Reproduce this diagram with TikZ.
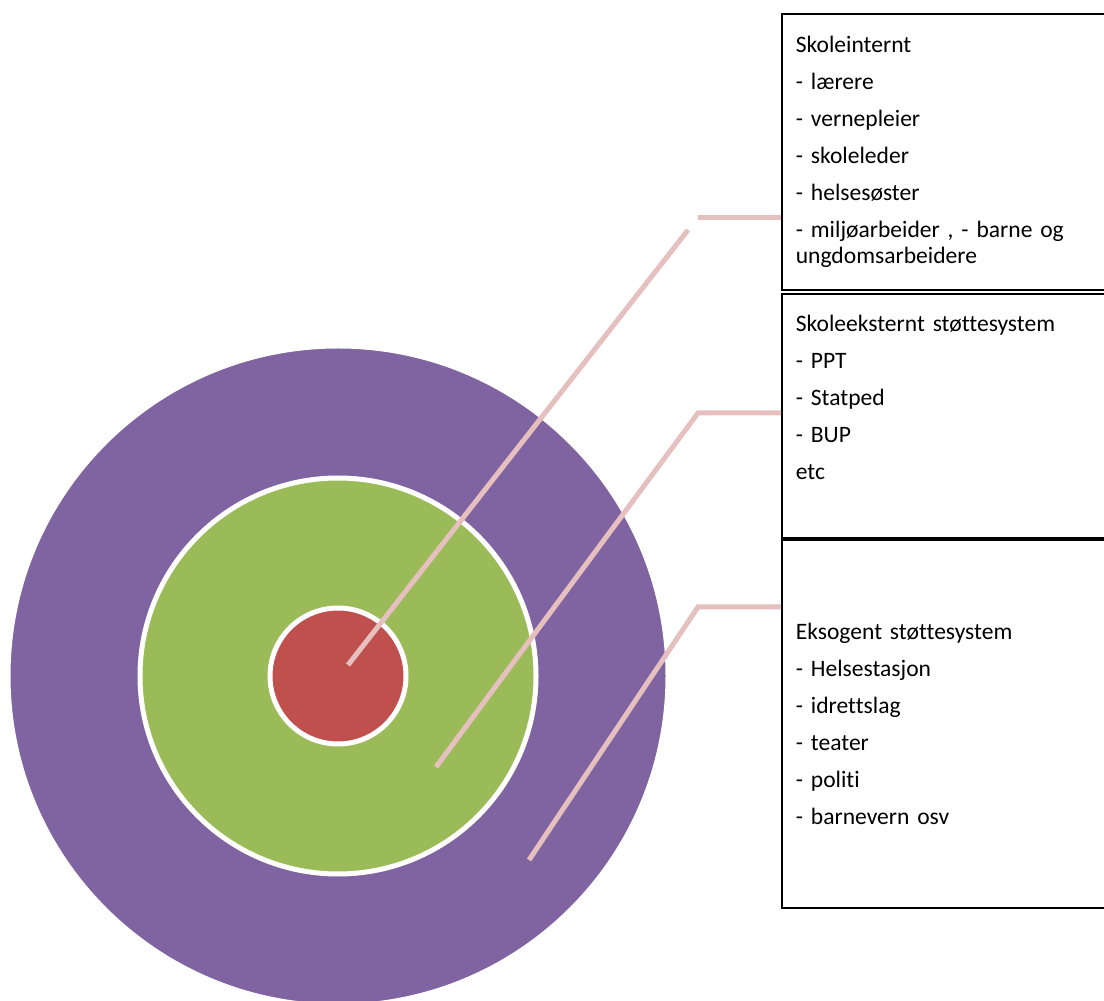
\documentclass[tikz,border=0pt]{standalone}
\usepackage{fontspec}
\setmainfont{Carlito}[Ligatures=NoCommon]
\definecolor{outerring}{HTML}{8064A2}
\definecolor{midring}{HTML}{9BBB59}
\definecolor{core}{HTML}{C0504D}
\definecolor{leader}{HTML}{E6BFBF}
\tikzset{
  ring/.style={circle, draw=white, line width=0.1cm, inner sep=0},
  listbox/.style={draw, line width=0.035cm, anchor=north west, minimum width=8cm,
    text width=7.44cm, inner xsep=0.28cm, align=left,
    font=\fontsize{13.4}{14.8}\selectfont},
  leaderline/.style={draw=leader, line width=0.1cm}
}
\begin{document}
\begin{tikzpicture}
        \clip (0,0) rectangle (22.08,20);
        \fill[white] (0,0) rectangle (22.08,20);

        % rings
        \node[ring, fill=outerring, minimum size=13.2cm] (outer) at (6.76,6.48) {};
        \node[ring, fill=midring, minimum size=7.92cm] (middle) at (outer.center) {};
        \node[ring, fill=core, minimum size=2.72cm] (inner) at (outer.center) {};

        % boxes
        \node[listbox, minimum height=5.52cm] (intern) at (15.62,19.74)
          {Skoleinternt\\[6.2pt] - lærere\\[6.2pt] - vernepleier\\[6.2pt] - skoleleder\\[6.2pt]
           - helsesøster\\[6.2pt] - miljøarbeider , - barne og\\ungdomsarbeidere};
        \node[listbox, minimum height=4.88cm] (ekstern) at (15.62,14.14)
          {Skoleeksternt støttesystem\\[6.2pt] - PPT\\[6.2pt] - Statped\\[6.2pt] - BUP\\[6.2pt]
           etc\\[6.2pt] \mbox{}};
        \node[listbox, minimum height=7.36cm] (eksogent) at (15.62,9.22)
          {Eksogent støttesystem\\[6.2pt] - Helsestasjon\\[6.2pt] - idrettslag\\[6.2pt]
           - teater\\[6.2pt] - politi\\[6.2pt] - barnevern osv};

        % leader lines
        \coordinate (k1) at (13.96,15.64);
        \coordinate (s1) at (13.76,15.4);
        \coordinate (e1) at (6.96,6.7);
        \coordinate (k2) at (13.96,11.74);
        \coordinate (e2) at (8.72,4.66);
        \coordinate (k3) at (13.96,7.86);
        \coordinate (e3) at (10.58,2.8);

        \draw[leaderline] (k1 -| intern.west) -- (k1);
        \draw[leaderline] (s1) -- (e1);
        \draw[leaderline] (k2 -| ekstern.west) -- (k2) -- (e2);
        \draw[leaderline] (k3 -| eksogent.west) -- (k3) -- (e3);
\end{tikzpicture}
\end{document}
